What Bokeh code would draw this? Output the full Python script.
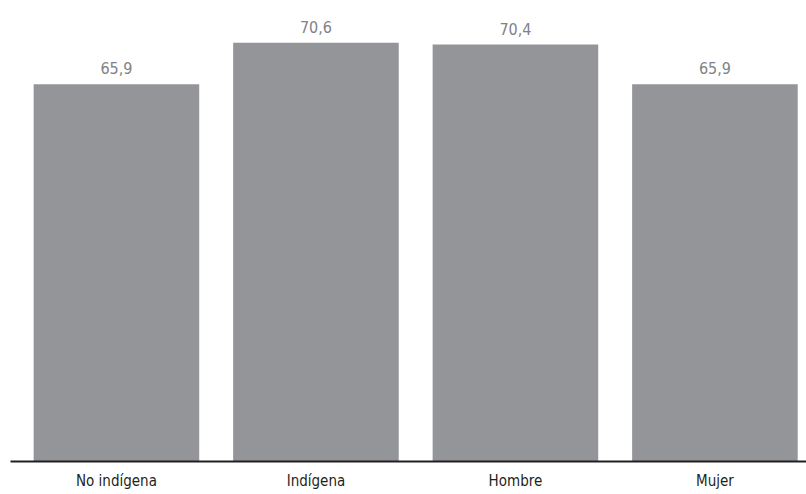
from bokeh.plotting import figure
from bokeh.models import ColumnDataSource, Range1d, FixedTicker, LabelSet
from bokeh.core.properties import value
from bokeh.embed import file_html
from bokeh.resources import INLINE

categories = ["No indígena", "Indígena", "Hombre", "Mujer"]
values = [65.9, 70.6, 70.4, 65.9]
value_labels = ["65,9", "70,6", "70,4", "65,9"]

xs = list(range(len(categories)))
source = ColumnDataSource(dict(x=xs, top=values, lab=value_labels))

FONT = "DejaVu Sans Condensed"

p = figure(width=806, height=492, output_backend="svg", toolbar_location=None,
           x_range=Range1d(-0.531, 3.459), y_range=Range1d(23, 74.5),
           min_border_left=10, min_border_right=0, min_border_top=8, min_border_bottom=24)
p.outline_line_color = None
p.grid.visible = False
p.yaxis.visible = False

p.vbar(x="x", top="top", bottom=23, width=0.83, source=source,
       fill_color="#939598", line_color=None)

labels = LabelSet(x="x", y="top", text="lab", source=source, text_align="center",
                  text_baseline="bottom", y_offset=10, text_font=value(FONT),
                  text_font_size=value("16px"), text_color=value("#808285"))
p.add_layout(labels)

p.xaxis.ticker = FixedTicker(ticks=xs)
p.xaxis.major_label_overrides = {i: c for i, c in enumerate(categories)}
p.xaxis.axis_line_width = 2
p.xaxis.axis_line_color = "#231f20"
p.xaxis.major_tick_line_color = None
p.xaxis.minor_tick_line_color = None
p.xaxis.major_label_text_font = FONT
p.xaxis.major_label_text_font_size = "15px"
p.xaxis.major_label_text_color = "#231f20"
p.xaxis.major_label_standoff = 4

open("out.html", "w").write(file_html(p, INLINE))
